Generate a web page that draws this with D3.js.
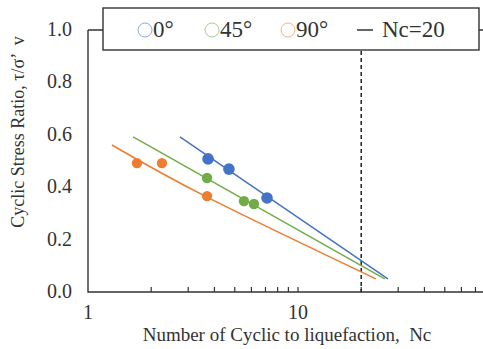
<!DOCTYPE html>
<html>
<head>
<meta charset="utf-8">
<script src="https://cdn.jsdelivr.net/npm/d3@7"></script>
<style>
    body { margin: 0; background: #fff; }
    svg { display: block; font-family: "Liberation Serif", "Times New Roman", serif; }
</style>
</head>
<body>
<script>
// measured points (Nc, stress ratio)
const series = ["0°", "45°", "90°"];
const colors = ["#4472C4", "#70AD47", "#ED7D31"];
const points0 = [[3.73, 0.508], [4.69, 0.469], [7.12, 0.359]];
const points45 = [[3.69, 0.435], [5.53, 0.347], [6.17, 0.336]];
const points90 = [[1.71, 0.492], [2.25, 0.492], [3.69, 0.366]];
// fitted trend lines
const fit0 = [[2.74, 0.592], [26.8, 0.05]];
const fit45 = [[1.64, 0.592], [25.9, 0.05]];
const fit90 = [[1.30, 0.561], [3.69, 0.362], [23.5, 0.05]];
const ncLimit = 20;
const yTicks = [0, 0.2, 0.4, 0.6, 0.8, 1.0];
const xLabels = [1, 10];
const xMinor = [2, 3, 4, 5, 6, 7, 8, 9, 20, 30, 40, 50, 60, 70, 80, 90];

const width = 483, height = 349;
const svg = d3.select("body").append("svg")
    .attr("width", width).attr("height", height);

const x = d3.scaleLog().domain([1, 100]).range([88, 508]);
const y = d3.scaleLinear().domain([0, 1]).range([292, 30]);

// frame
svg.append("path")
    .attr("d", `M${x(1)},${y(1)}V${y(0)}H${width + 5}M${x(1)},${y(1)}H${width + 5}`)
    .attr("fill", "none").attr("stroke", "#333").attr("stroke-width", 1.4);

// minor / major ticks pointing inward
svg.append("g").selectAll("line")
    .data(xMinor.concat([10]))
    .join("line")
    .attr("x1", d => x(d)).attr("x2", d => x(d))
    .attr("y1", y(0)).attr("y2", y(0) - 5)
    .attr("stroke", "#333").attr("stroke-width", 1.2);

svg.append("g").selectAll("text")
    .data(yTicks)
    .join("text")
    .attr("x", 72).attr("y", d => y(d) + 6)
    .attr("text-anchor", "end")
    .attr("font-size", 20).attr("fill", "#333")
    .text(d => d.toFixed(1));

svg.append("g").selectAll("text")
    .data(xLabels)
    .join("text")
    .attr("x", d => x(d)).attr("y", 319)
    .attr("text-anchor", "middle")
    .attr("font-size", 20).attr("fill", "#333")
    .text(d => d);

// Nc = 20 dashed line
svg.append("line")
    .attr("x1", x(ncLimit)).attr("x2", x(ncLimit))
    .attr("y1", y(1)).attr("y2", y(0))
    .attr("stroke", "#222").attr("stroke-width", 1.5)
    .attr("stroke-dasharray", "4,3");

const line = d3.line().x(d => x(d[0])).y(d => y(d[1])).curve(d3.curveNatural);
[fit0, fit45, fit90].forEach((f, i) => {
    svg.append("path")
        .attr("d", line(f))
        .attr("fill", "none")
        .attr("stroke", colors[i])
        .attr("stroke-width", 1.5);
});

[points0, points45, points90].forEach((p, i) => {
    svg.append("g").selectAll("circle")
        .data(p)
        .join("circle")
        .attr("cx", d => x(d[0])).attr("cy", d => y(d[1]))
        .attr("r", i === 0 ? 5.8 : 5.2)
        .attr("fill", colors[i]);
});

// legend
const legend = svg.append("g");
legend.append("rect")
    .attr("x", 103).attr("y", 8).attr("width", 376).attr("height", 42)
    .attr("fill", "#fff").attr("stroke", "#333").attr("stroke-width", 1.4);
const legendX = [145, 212, 288];
series.forEach((s, i) => {
    legend.append("circle")
        .attr("cx", legendX[i]).attr("cy", 30).attr("r", 7)
        .attr("fill", "none").attr("stroke", colors[i])
        .attr("stroke-opacity", 0.6).attr("stroke-width", 1);
    legend.append("text")
        .attr("x", legendX[i] + 8).attr("y", 37)
        .attr("font-size", 23).attr("fill", "#333")
        .text(s);
});
legend.append("line")
    .attr("x1", 357).attr("x2", 373).attr("y1", 30).attr("y2", 30)
    .attr("stroke", "#333").attr("stroke-width", 1.5);
legend.append("text")
    .attr("x", 382).attr("y", 37)
    .attr("font-size", 23).attr("fill", "#333")
    .text("Nc=20");

// axis titles
svg.append("text")
    .attr("x", 287).attr("y", 341)
    .attr("text-anchor", "middle")
    .attr("font-size", 19).attr("fill", "#333")
    .style("white-space", "pre")
    .text("Number of Cyclic to liquefaction,  Nc");

svg.append("text")
    .attr("transform", "translate(24,132) rotate(-90)")
    .attr("text-anchor", "middle")
    .attr("font-size", 18).attr("fill", "#333")
    .style("white-space", "pre")
    .text("Cyclic Stress Ratio, τ/σ’  v");
</script>
</body>
</html>
